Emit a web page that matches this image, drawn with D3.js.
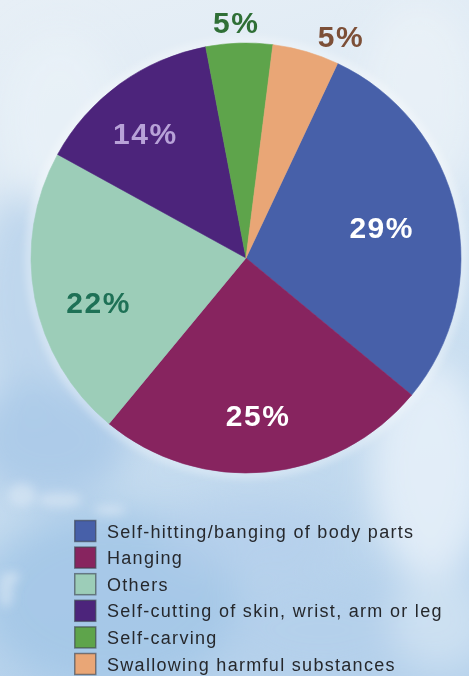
<!DOCTYPE html>
<html>
<head>
<meta charset="utf-8">
<script src="https://cdn.jsdelivr.net/npm/d3@7"></script>
<style>
  html, body { margin: 0; padding: 0; background: #e3edf5; }
  svg { display: block; }
</style>
</head>
<body>
<svg id="chart" width="469" height="676"></svg>
<script>
// Methods of self-harm, share of cases (%)
const categories = [
  "Self-hitting/banging of body parts",
  "Hanging",
  "Others",
  "Self-cutting of skin, wrist, arm or leg",
  "Self-carving",
  "Swallowing harmful substances"
];
const shares = [29, 25, 22, 14, 5, 5];
const labels = ["29%", "25%", "22%", "14%", "5%", "5%"];
const sliceColors = ["#4760a9", "#87245f", "#9ccdb8", "#4c247b", "#5ea44b", "#e9a676"];
const labelColors = ["#ffffff", "#ffffff", "#1e7156", "#b8a2d8", "#2f6f36", "#7c4f37"];

const W = 469, H = 676;
const cx = 246, cy = 258, R = 215;
const svg = d3.select("#chart");
const defs = svg.append("defs");

// ---- watercolour-style backdrop ----
const bg = defs.append("linearGradient").attr("id", "bgGrad")
  .attr("x1", 0).attr("y1", 0).attr("x2", 0.2).attr("y2", 1);
bg.append("stop").attr("offset", "0%").attr("stop-color", "#e7eff6");
bg.append("stop").attr("offset", "45%").attr("stop-color", "#dae8f4");
bg.append("stop").attr("offset", "75%").attr("stop-color", "#c4dbef");
bg.append("stop").attr("offset", "100%").attr("stop-color", "#b6d2ec");
svg.append("rect").attr("width", W).attr("height", H).attr("fill", "url(#bgGrad)");

defs.append("filter").attr("id", "soft").attr("x", "-50%").attr("y", "-50%")
  .attr("width", "200%").attr("height", "200%")
  .append("feGaussianBlur").attr("stdDeviation", 18);
defs.append("filter").attr("id", "softer").attr("x", "-50%").attr("y", "-50%")
  .attr("width", "200%").attr("height", "200%")
  .append("feGaussianBlur").attr("stdDeviation", 5);

const wash = svg.append("g").attr("filter", "url(#soft)");
[
  [25, 300, 50, 110, "#b8d2eb", 0.8],
  [50, 440, 80, 60, "#aac9e8", 0.9],
  [110, 600, 130, 90, "#a4c6e7", 0.9],
  [250, 540, 90, 40, "#b3cfeb", 0.7],
  [320, 630, 90, 50, "#b4d0eb", 0.8],
  [430, 470, 60, 110, "#e6f0f8", 0.9],
  [440, 620, 50, 50, "#d2e3f2", 0.8],
  [60, 120, 60, 90, "#eaf2f8", 0.7],
  [420, 100, 60, 100, "#eef4f9", 0.6]
].forEach(([x, y, rx, ry, c, o]) => {
  wash.append("ellipse").attr("cx", x).attr("cy", y).attr("rx", rx).attr("ry", ry)
    .attr("fill", c).attr("opacity", o);
});
const spots = svg.append("g").attr("filter", "url(#softer)");
[
  [22, 495, 14, 12], [60, 500, 22, 8], [110, 510, 16, 6], [6, 590, 8, 18], [14, 577, 6, 6]
].forEach(([x, y, rx, ry]) => {
  spots.append("ellipse").attr("cx", x).attr("cy", y).attr("rx", rx).attr("ry", ry)
    .attr("fill", "#e6eff8").attr("opacity", 0.45);
});

// ---- pie ----
const startDeg = 25.2;
const pie = d3.pie().sort(null).value(d => d)
  .startAngle(startDeg * Math.PI / 180)
  .endAngle((startDeg + 360) * Math.PI / 180);
const arcs = pie(shares);
const arc = d3.arc().innerRadius(0).outerRadius(R);

const g = svg.append("g").attr("transform", `translate(${cx},${cy})`);

// soft light halo round the disc
g.append("circle").attr("r", R + 1).attr("fill", "none")
  .attr("stroke", "#ffffff").attr("stroke-width", 4).attr("opacity", 0.8)
  .attr("filter", "url(#softer)");

g.selectAll("path.slice").data(arcs).enter().append("path")
  .attr("class", "slice")
  .attr("d", arc)
  .attr("fill", (d, i) => sliceColors[i])
  .attr("stroke", (d, i) => sliceColors[i])
  .attr("stroke-width", 0.6);

// percentage labels: inside for large slices, just outside the rim for small ones
const labelRadius = [139, 158, 154, 160, 236, 241];
const labelShift = [0, 1, -6, -3, -0.6, 7];
g.selectAll("text.pct").data(arcs).enter().append("text")
  .attr("class", "pct")
  .attr("transform", (d, i) => {
    const a = (d.startAngle + d.endAngle) / 2 + labelShift[i] * Math.PI / 180;
    const r = labelRadius[i];
    return `translate(${r * Math.sin(a)},${-r * Math.cos(a)})`;
  })
  .attr("text-anchor", "middle")
  .attr("dy", "0.36em")
  .attr("font-family", "'Liberation Sans', Arial, Helvetica, sans-serif")
  .attr("font-weight", "bold")
  .attr("font-size", 30)
  .attr("letter-spacing", 1.5)
  .attr("fill", (d, i) => labelColors[i])
  .text((d, i) => labels[i]);

// ---- legend ----
const legendY = d3.scalePoint().domain(categories).range([531, 664]);
const lg = svg.append("g");
const rows = lg.selectAll("g.row").data(categories).enter().append("g")
  .attr("class", "row")
  .attr("transform", d => `translate(74,${legendY(d)})`);
rows.append("rect")
  .attr("x", 0.75).attr("y", -10.5).attr("width", 21).attr("height", 21)
  .attr("fill", (d, i) => sliceColors[i])
  .attr("stroke", "#3a3f4a").attr("stroke-opacity", 0.6).attr("stroke-width", 1.5);
rows.append("text")
  .attr("x", 33).attr("y", 6.5)
  .attr("font-family", "'Liberation Sans', Arial, Helvetica, sans-serif")
  .attr("font-size", 18)
  .attr("letter-spacing", 1.3)
  .attr("fill", "#26282c")
  .text(d => d);
</script>
</body>
</html>
